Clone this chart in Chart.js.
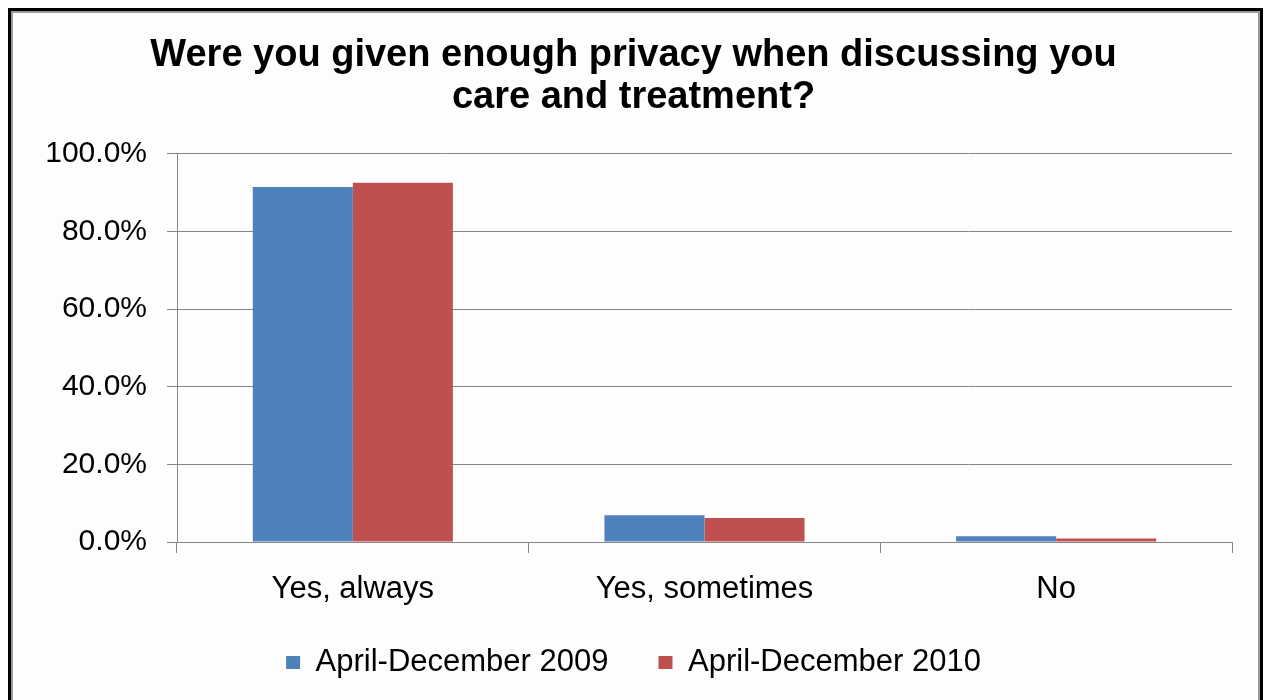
<!DOCTYPE html>
<html>
<head>
<meta charset="utf-8">
<script src="https://cdn.jsdelivr.net/npm/chart.js@4"></script>
<style>
  html, body { margin: 0; padding: 0; background: #ffffff; width: 1267px; height: 700px; overflow: hidden; }
  #frame { position: absolute; left: 8px; top: 8px; width: 1249px; height: 720px; border: 3px solid #000; box-shadow: inset 0 0 0 2px #9a9a9a; background: #fdfdfd; }
  #wrap { position: absolute; left: 0; top: 0; width: 1267px; height: 700px; }
</style>
</head>
<body>
<div id="frame"></div>
<div id="wrap"><canvas id="c" width="1267" height="700"></canvas></div>
<script>
const categories = ["Yes, always", "Yes, sometimes", "No"];
const series2009 = [91.5, 6.9, 1.5];
const series2010 = [92.6, 6.2, 0.9];
const seriesNames = ["April-December 2009", "April-December 2010"];
const titleLines = ["Were you given enough privacy when discussing you", "care and treatment?"];
const yTicks = [0, 20, 40, 60, 80, 100];

const FONT = "'Liberation Sans', Arial, sans-serif";

// let the category labels draw below the (deliberately short) x-axis box
const unclipXLabels = {
  id: 'unclipXLabels',
  afterLayout(chart) { chart.scales.x.bottom = chart.height; }
};

new Chart(document.getElementById('c'), {
  type: 'bar',
  data: {
    labels: categories,
    datasets: [
      { label: seriesNames[0], data: series2009, backgroundColor: '#4F81BD', borderWidth: 0 },
      { label: seriesNames[1], data: series2010, backgroundColor: '#C0504D', borderWidth: 0 }
    ]
  },
  plugins: [unclipXLabels],
  options: {
    responsive: false,
    animation: false,
    devicePixelRatio: 1,
    categoryPercentage: 0.569,
    barPercentage: 1.0,
    layout: { padding: { left: 35, right: 35, top: 0, bottom: 12 } },
    plugins: {
      title: {
        display: true,
        text: titleLines,
        color: '#000',
        font: { family: FONT, size: 38, weight: 'bold', lineHeight: 1.105 },
        padding: { top: 35, bottom: 35 }
      },
      legend: {
        position: 'bottom',
        labels: {
          color: '#000',
          font: { family: FONT, size: 31 },
          boxWidth: 14,
          boxHeight: 13,
          padding: 50
        }
      },
      tooltip: { enabled: false }
    },
    scales: {
      x: {
        grid: { display: true, drawOnChartArea: false, drawTicks: true, tickLength: 11, color: '#868686', offset: true },
        border: { display: true, color: '#868686', width: 1 },
        ticks: { color: '#000', font: { family: FONT, size: 31 }, padding: 18 },
        afterFit(scale) { scale.height = 55; }
      },
      y: {
        min: 0, max: 100,
        afterBuildTicks(scale) { scale.ticks = yTicks.map(v => ({ value: v })); },
        grid: { color: '#868686', lineWidth: 1, tickLength: 10 },
        border: { display: true, color: '#868686', width: 1 },
        ticks: { color: '#000', font: { family: FONT, size: 30 }, padding: 20,
                 callback: v => v.toFixed(1) + '%' },
        afterFit(scale) { scale.width = 142; }
      }
    }
  }
});
</script>
</body>
</html>
